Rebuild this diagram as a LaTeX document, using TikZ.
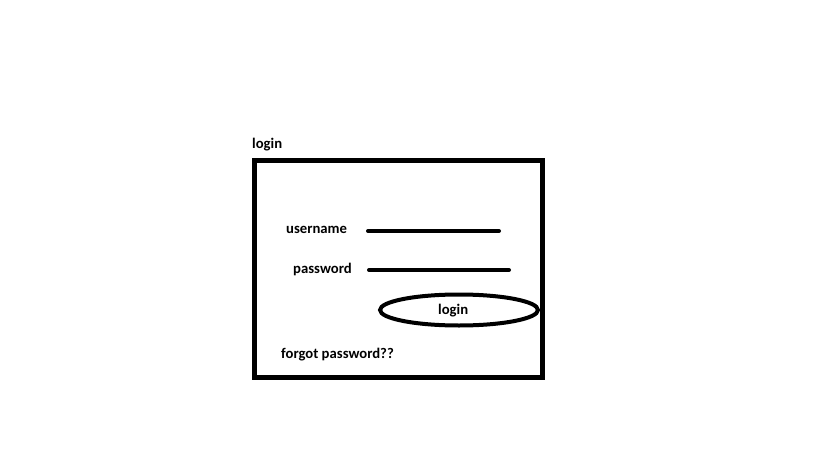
\documentclass[tikz,border=0pt]{standalone}
\usepackage{fontspec}
\setmainfont{Carlito}
\usepackage{tikz}
\usetikzlibrary{shapes}
\usetikzlibrary{positioning}

\begin{document}
\begin{tikzpicture}[x=1pt,y=-1pt]
				\tikzset{label/.style = {anchor=base west, inner sep=0pt,
						font=\fontsize{14.7}{16}\selectfont\bfseries}}
				\tikzset{frame/.style = {draw, line width=5pt}}
				\tikzset{field/.style = {line width=4pt, line cap=round}}
				\tikzset{button/.style = {shape=ellipse, draw, line width=4pt,
						minimum width=158pt, minimum height=31pt, inner sep=0pt}}
				
				\useasboundingbox (0,0) rectangle (819,460);
				
				% window
				\node[label] (title) at (252,148) {login};
				\draw[frame] (254.5,160.5) rectangle (542.5,377.5);
				
				% fields
				\node[label] (user) at (286,233) {username};
				\node[label] (pass) at (293,273) {password};
				\coordinate (userA) at (368,231);
				\coordinate (userB) at (499,231);
				\coordinate (passA) at (369,270);
				\coordinate (passB) at (509,270);
				\draw[field] (userA) -- (userB);
				\draw[field] (passA) -- (passB);
				
				% button
				\node[button] (btn) at (459,310) {};
				\node[label] (btntext) at (438,314) {login};
				\node[label] (forgot) at (281,358) {forgot password??};
				
\end{tikzpicture}
\end{document}
